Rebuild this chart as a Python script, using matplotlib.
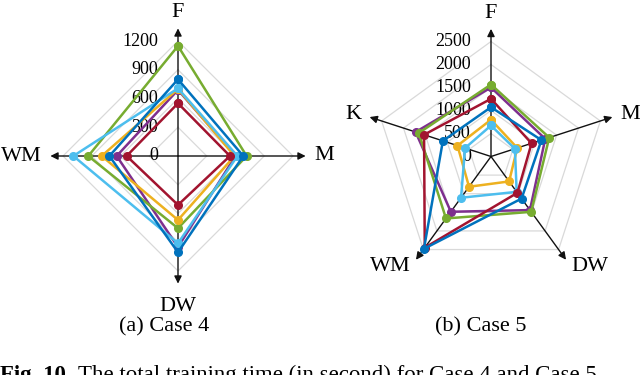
"""
Радарные диаграммы времени обучения (Case 4 и Case 5).
"""

import numpy as np
import matplotlib.pyplot as plt

plt.rcParams['font.family'] = ['Liberation Serif', 'DejaVu Serif']

W, H = 640, 375

# Цвета серий (порядок отрисовки снизу вверх)
series_names = ['purple', 'green', 'yellow', 'lightblue', 'red', 'blue']
series_colors = {
    'blue': '#0072BD',
    'yellow': '#EDB120',
    'purple': '#7E2F8E',
    'green': '#77AC30',
    'lightblue': '#4DBEEE',
    'red': '#A2142F',
}

# Case 4
case4_labels = ['F', 'M', 'DW', 'WM']
case4_ticks = [0, 300, 600, 900, 1200]
case4_blue = [800, 681, 1005, 716]
case4_yellow = [700, 590, 668, 796]
case4_purple = [690, 600, 950, 640]
case4_green = [1148, 716, 754, 936]
case4_lightblue = [706, 620, 911, 1092]
case4_red = [550, 542, 511, 536]

# Case 5
case5_labels = ['F', 'M', 'DW', 'WM', 'K']
case5_ticks = [0, 500, 1000, 1500, 2000, 2500]
case5_blue = [1072, 1153, 1131, 2480, 1100]
case5_yellow = [800, 600, 670, 813, 766]
case5_purple = [1500, 1240, 1440, 1485, 1723]
case5_green = [1565, 1331, 1487, 1665, 1650]
case5_lightblue = [674, 546, 950, 1108, 593]
case5_red = [1254, 927, 976, 2450, 1530]

case4 = dict(blue=case4_blue, yellow=case4_yellow, purple=case4_purple,
             green=case4_green, lightblue=case4_lightblue, red=case4_red)
case5 = dict(blue=case5_blue, yellow=case5_yellow, purple=case5_purple,
             green=case5_green, lightblue=case5_lightblue, red=case5_red)


def spider(fig, cx, cy, outer_px, labels, ticks, series):
    """
    Одна радарная диаграмма с центром в пикселе (cx, cy).
    """
    rmax = ticks[-1]
    k = rmax / outer_px  # единиц на пиксель
    ax = fig.add_axes([0, 0, 1, 1])
    ax.set_xlim(-cx * k, (W - cx) * k)
    ax.set_ylim(-(H - cy) * k, cy * k)
    ax.axis('off')

    n = len(labels)
    ang = np.deg2rad(90 - 360 * np.arange(n) / n)
    ang_c = np.append(ang, ang[0])

    # Сетка
    for t in ticks[1:]:
        ax.plot(t * np.cos(ang_c), t * np.sin(ang_c), color='#d9d9d9',
                lw=0.9, zorder=1)

    # Оси со стрелками
    for a in ang:
        ax.annotate('', xy=(1.11 * rmax * np.cos(a), 1.11 * rmax * np.sin(a)),
                    xytext=(0, 0),
                    arrowprops=dict(arrowstyle='-|>', color='#111111', lw=1.0,
                                    shrinkA=0, shrinkB=0, mutation_scale=11),
                    zorder=2)

    # Подписи делений
    for t in ticks:
        ax.text(-20 * k, t, str(t), ha='right', va='center', fontsize=13,
                zorder=2.5)

    # Серии
    for i, name in enumerate(series_names):
        vals = np.array(series[name] + series[name][:1], dtype=float)
        ax.plot(vals * np.cos(ang_c), vals * np.sin(ang_c), '-o',
                color=series_colors[name], lw=1.8, ms=5.5, zorder=3 + i)

    # Названия осей
    for lab, a in zip(labels, ang):
        c, s = np.cos(a), np.sin(a)
        if abs(c) < 0.1:
            ha = 'center'
            if s > 0:
                va, r = 'baseline', 139 * k
            else:
                va, r = 'top', 141 * k
        else:
            ha = 'left' if c > 0 else 'right'
            va = 'center'
            r = 136 * k
        ax.text(r * c, r * s, lab, ha=ha, va=va, fontsize=16)
    return ax


fig = plt.figure(figsize=(W / 100, H / 100), dpi=100)

spider(fig, 178, 156, 115, case4_labels, case4_ticks, case4)
spider(fig, 491, 156.5, 115, case5_labels, case5_ticks, case5)

fig.text(164 / W, 1 - 327 / H, '(a) Case 4', ha='center', va='center',
         fontsize=16)
fig.text(481 / W, 1 - 327 / H, '(b) Case 5', ha='center', va='center',
         fontsize=16)

# Подпись рисунка: жирное "Fig. 10." и обычный текст следом
cap_y = 1 - 365 / H
bold = fig.text(0, cap_y, 'Fig. 10.', ha='left', va='top', fontsize=16.5,
                fontweight='bold')
fig.canvas.draw()
bb = bold.get_window_extent(renderer=fig.canvas.get_renderer())
fig.text(bb.x1 / W + 6 / W, cap_y,
         'The total training time (in second) for Case 4 and Case 5.',
         ha='left', va='top', fontsize=16.5)

plt.savefig('out.png', dpi=100)
plt.close()
